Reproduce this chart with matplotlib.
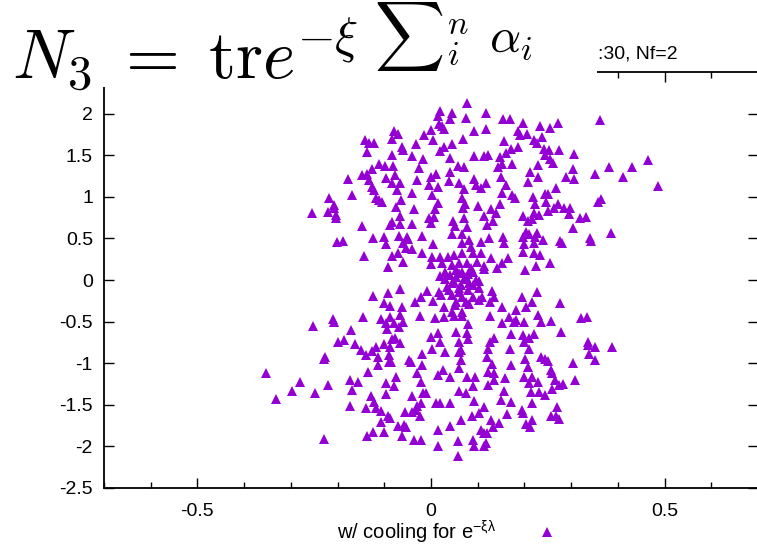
import matplotlib
matplotlib.use("Agg")
import matplotlib.pyplot as plt
from matplotlib.patches import Rectangle
from matplotlib.ticker import MultipleLocator

plt.rcParams["font.family"] = ["Liberation Sans", "DejaVu Sans"]
plt.rcParams["mathtext.fontset"] = "custom"
plt.rcParams["mathtext.rm"] = "Liberation Sans"
plt.rcParams["mathtext.it"] = "Liberation Sans"

# points (dense core first, then the outer cloud)
core = [
    (-0.020, 0.53), (0.004, 0.43), (0.046, 0.55), (0.066, 0.55), (0.067, 0.44), (0.081, 0.48),
    (0.086, 0.40), (0.106, 0.46), (0.124, 0.50), (0.154, 0.52), (0.156, 0.44), (-0.041, 0.37),
    (-0.020, 0.33), (0.003, 0.28), (0.019, 0.28), (0.037, 0.28), (0.050, 0.30), (0.067, 0.32),
    (0.089, 0.32), (0.107, 0.33), (0.128, 0.26), (0.164, 0.27), (0.153, 0.21), (0.000, 0.19),
    (0.024, 0.20), (0.046, 0.18), (0.060, 0.20), (0.078, 0.20), (0.098, 0.22), (0.113, 0.17),
    (0.141, 0.14), (0.031, 0.10), (0.053, 0.12), (0.067, 0.10), (0.089, 0.10), (0.114, 0.13),
    (0.030, 0.01), (0.053, 0.04), (0.074, 0.04), (0.096, 0.00), (0.103, -0.01), (0.046, -0.04),
    (0.064, -0.06), (0.081, -0.04), (-0.009, -0.13), (0.017, -0.14), (0.039, -0.12), (0.060, -0.14),
    (0.079, -0.12), (0.103, -0.10), (0.131, -0.13), (-0.021, -0.20), (0.021, -0.18), (0.046, -0.18),
    (0.067, -0.20), (0.089, -0.20), (0.110, -0.20), (0.134, -0.20), (-0.034, -0.26), (0.004, -0.25),
    (0.053, -0.26), (0.074, -0.26), (0.103, -0.24), (0.127, -0.26), (0.027, -0.32), (0.051, -0.30),
    (0.081, -0.29), (0.153, -0.33), (0.181, -0.36), (0.046, -0.38), (0.067, -0.39), (-0.023, -0.43),
    (0.009, -0.46), (0.027, -0.44), (0.050, -0.43), (0.067, -0.43), (0.126, -0.43), (0.167, -0.45),
    (0.040, 0.06), (0.060, 0.08), (0.080, 0.07), (0.050, -0.02), (0.070, 0.01), (0.090, -0.06),
    (0.035, -0.08), (0.060, -0.10), (0.085, 0.14), (0.020, 0.05),
]

upper_left = [
    (0.076, 2.13), (0.019, 2.03), (0.044, 2.01), (0.117, 2.01), (0.014, 1.97), (0.040, 1.93),
    (0.074, 1.95), (0.017, 1.87), (0.023, 1.85), (0.027, 1.81), (0.154, 1.93), (0.001, 1.80),
    (-0.014, 1.74), (0.004, 1.68), (0.093, 1.79), (0.117, 1.81), (-0.080, 1.79), (-0.071, 1.75),
    (-0.084, 1.69), (-0.141, 1.68), (-0.133, 1.65), (-0.123, 1.65), (0.069, 1.69), (0.046, 1.64),
    (-0.033, 1.63), (0.028, 1.60), (0.019, 1.55), (0.157, 1.67), (-0.063, 1.60), (-0.061, 1.56),
    (-0.136, 1.54), (-0.083, 1.50), (-0.040, 1.49), (-0.017, 1.46), (0.040, 1.47), (0.093, 1.49),
    (0.113, 1.49), (0.123, 1.50), (0.147, 1.48), (0.161, 1.53), (-0.111, 1.40), (-0.099, 1.37),
    (-0.081, 1.37), (-0.026, 1.35), (0.057, 1.37), (0.071, 1.36), (0.144, 1.36), (0.153, 1.40),
    (-0.127, 1.33), (-0.148, 1.26), (-0.138, 1.28), (-0.177, 1.21), (-0.133, 1.20), (-0.096, 1.23),
    (-0.076, 1.26), (-0.029, 1.20), (-0.001, 1.24), (0.011, 1.28), (0.041, 1.30), (0.039, 1.19),
    (0.059, 1.16), (0.093, 1.21), (0.096, 1.14), (0.117, 1.16), (0.150, 1.24), (-0.083, 1.16),
    (-0.066, 1.17), (-0.004, 1.14), (0.014, 1.12), (0.070, 1.09), (0.107, 1.10), (0.153, 1.04),
    (0.161, 1.14), (-0.218, 0.98), (-0.170, 1.02), (-0.127, 1.12), (-0.123, 1.08), (-0.073, 1.08),
    (-0.040, 1.04), (0.003, 1.02), (-0.118, 0.98), (-0.111, 0.96), (-0.104, 0.94), (-0.064, 0.96),
    (0.014, 0.93), (0.067, 0.98), (0.073, 0.91), (0.100, 0.89), (0.128, 0.85), (0.148, 0.91),
    (-0.207, 0.90), (-0.207, 0.87), (-0.074, 0.88), (-0.037, 0.85), (0.009, 0.85), (0.069, 0.86),
    (-0.254, 0.81), (-0.220, 0.82), (-0.203, 0.78), (-0.203, 0.74), (-0.067, 0.77), (-0.004, 0.74),
    (0.007, 0.76), (0.047, 0.71), (0.071, 0.75), (0.113, 0.77), (0.133, 0.71), (0.140, 0.80),
    (-0.084, 0.70), (-0.087, 0.66), (-0.067, 0.67), (-0.040, 0.67), (0.001, 0.69), (0.051, 0.65),
    (0.077, 0.64), (0.120, 0.66), (-0.147, 0.65), (-0.124, 0.51), (-0.101, 0.52), (-0.069, 0.53),
    (-0.051, 0.52), (-0.049, 0.49), (-0.201, 0.46), (-0.188, 0.47), (-0.097, 0.43), (-0.060, 0.44),
    (-0.053, 0.39), (-0.144, 0.29), (-0.083, 0.29), (-0.071, 0.32), (-0.093, 0.16), (-0.061, 0.22),
]

upper_right = [
    (0.170, 1.93), (0.196, 1.89), (0.233, 1.85), (0.255, 1.83), (0.271, 1.89), (0.361, 1.92),
    (0.186, 1.79), (0.190, 1.74), (0.206, 1.76), (0.221, 1.68), (0.226, 1.65), (0.238, 1.72),
    (0.171, 1.58), (0.187, 1.60), (0.241, 1.58), (0.253, 1.56), (0.273, 1.56), (0.307, 1.52),
    (0.245, 1.50), (0.255, 1.46), (0.261, 1.41), (0.173, 1.40), (0.230, 1.38), (0.303, 1.34),
    (0.381, 1.36), (0.431, 1.36), (0.464, 1.44), (0.211, 1.30), (0.228, 1.24), (0.207, 1.18),
    (0.290, 1.24), (0.307, 1.21), (0.351, 1.28), (0.411, 1.24), (0.486, 1.13), (0.268, 1.10),
    (0.174, 1.02), (0.179, 0.98), (0.219, 1.00), (0.244, 1.03), (0.251, 1.03), (0.223, 0.91),
    (0.246, 0.94), (0.271, 0.91), (0.358, 0.94), (0.364, 0.97), (0.198, 0.77), (0.220, 0.81),
    (0.231, 0.78), (0.207, 0.71), (0.217, 0.73), (0.251, 0.83), (0.264, 0.86), (0.284, 0.86),
    (0.297, 0.87), (0.296, 0.79), (0.318, 0.74), (0.331, 0.76), (0.304, 0.62), (0.385, 0.56),
    (0.341, 0.51), (0.342, 0.47), (0.203, 0.58), (0.210, 0.55), (0.226, 0.57), (0.196, 0.52),
    (0.223, 0.52), (0.240, 0.48), (0.277, 0.47), (0.280, 0.44), (0.199, 0.43), (0.220, 0.45),
    (0.196, 0.34), (0.220, 0.32), (0.233, 0.30), (0.255, 0.21), (0.224, 0.17), (0.201, 0.12),
]

lower_left = [
    (-0.124, -0.19), (-0.091, -0.16), (-0.067, -0.11), (-0.101, -0.28), (-0.087, -0.31), (-0.063, -0.33),
    (-0.146, -0.44), (-0.210, -0.47), (-0.207, -0.51), (-0.253, -0.55), (-0.107, -0.47), (-0.087, -0.44),
    (-0.066, -0.42), (-0.096, -0.52), (-0.079, -0.52), (-0.061, -0.51), (-0.095, -0.59), (-0.069, -0.57),
    (-0.171, -0.60), (-0.200, -0.74), (-0.186, -0.72), (-0.163, -0.77), (-0.150, -0.84), (-0.140, -0.90),
    (-0.127, -0.85), (-0.118, -0.81), (-0.101, -0.77), (-0.088, -0.80), (-0.083, -0.71), (-0.076, -0.70),
    (-0.066, -0.76), (-0.113, -0.93), (-0.114, -1.02), (-0.090, -0.90), (-0.090, -0.98), (-0.086, -0.99),
    (-0.230, -0.95), (-0.227, -0.93), (-0.353, -1.12), (-0.331, -1.43), (-0.298, -1.34), (-0.280, -1.22),
    (-0.248, -1.36), (-0.220, -1.26), (-0.228, -1.91), (-0.173, -1.20), (-0.157, -1.22), (-0.134, -1.10),
    (-0.169, -1.32), (-0.173, -1.52), (-0.140, -1.54), (-0.128, -1.40), (-0.123, -1.47), (-0.118, -1.54),
    (-0.108, -1.57), (-0.124, -1.83), (-0.138, -1.87), (-0.101, -1.83), (-0.106, -1.71), (-0.096, -1.24),
    (-0.080, -1.28), (-0.074, -1.16), (-0.096, -1.37), (-0.091, -1.64), (-0.087, -1.66), (-0.071, -1.76),
    (-0.063, -1.87), (-0.057, -1.74), (-0.054, -1.77), (-0.056, -1.59), (-0.040, -1.59), (-0.040, -1.39),
    (-0.047, -0.96), (-0.043, -0.99), (-0.033, -1.56), (-0.029, -1.52), (-0.021, -1.48), (-0.024, -1.64),
    (-0.037, -1.92), (-0.021, -1.92), (-0.029, -1.12), (-0.020, -1.02), (-0.021, -1.22), (-0.011, -1.36),
    (-0.017, -1.36), (-0.019, -0.89), (-0.001, -0.69), (0.003, -0.83), (0.020, -0.75), (0.014, -0.64),
    (0.031, -0.87), (0.016, -1.14), (0.026, -1.08), (0.040, -1.16), (0.010, -1.48), (0.020, -1.48),
    (0.040, -1.48), (0.016, -1.80), (0.040, -1.76), (0.016, -2.00), (0.057, -1.93), (0.057, -2.11),
    (0.064, -1.68), (0.061, -1.34), (0.074, -1.36), (0.060, -1.06), (0.064, -0.96), (0.064, -0.84),
    (0.061, -0.87), (0.061, -0.74), (0.054, -0.63), (0.077, -0.64), (0.080, -0.53), (0.079, -0.71),
    (0.076, -1.16), (0.095, -1.17), (0.090, -1.28), (0.093, -1.45), (0.087, -1.64), (0.103, -1.60),
    (0.114, -1.53), (0.090, -1.92), (0.093, -2.00), (0.113, -1.84), (0.120, -1.84), (0.113, -2.00),
    (0.118, -1.96), (0.107, -1.80), (0.132, -1.77), (0.146, -1.72), (0.129, -1.68), (0.163, -1.61),
    (0.149, -1.44), (0.156, -1.34), (0.159, -1.18), (0.134, -1.20), (0.134, -1.12), (0.122, -1.26),
    (0.121, -1.10), (0.131, -1.01), (0.119, -0.92), (0.123, -0.83), (0.126, -0.75), (0.135, -0.70),
    (0.153, -0.52),
]

lower_right = [
    (0.194, -0.20), (0.226, -0.14), (0.203, -0.32), (0.217, -0.27), (0.277, -0.28), (0.181, -0.48),
    (0.177, -0.51), (0.200, -0.51), (0.230, -0.42), (0.236, -0.51), (0.256, -0.49), (0.321, -0.46),
    (0.333, -0.44), (0.278, -0.63), (0.171, -0.65), (0.197, -0.66), (0.209, -0.70), (0.221, -0.65),
    (0.200, -0.75), (0.209, -0.83), (0.169, -0.83), (0.202, -0.95), (0.236, -0.93), (0.243, -0.95),
    (0.251, -0.97), (0.336, -0.74), (0.336, -0.78), (0.351, -0.81), (0.387, -0.80), (0.338, -0.89),
    (0.350, -0.96), (0.303, -1.00), (0.207, -1.05), (0.171, -1.02), (0.256, -1.08), (0.258, -1.12),
    (0.199, -1.16), (0.216, -1.16), (0.266, -1.20), (0.229, -1.22), (0.209, -1.24), (0.274, -1.26),
    (0.283, -1.25), (0.309, -1.20), (0.260, -1.31), (0.213, -1.35), (0.231, -1.35), (0.243, -1.38),
    (0.171, -1.47), (0.216, -1.48), (0.194, -1.56), (0.196, -1.60), (0.269, -1.53), (0.256, -1.63),
    (0.267, -1.64), (0.274, -1.67), (0.217, -1.68), (0.204, -1.73), (0.211, -1.77),
]

x_major = [-0.5, 0, 0.5]
y_major = [2, 1.5, 1, 0.5, 0, -0.5, -1, -1.5, -2, -2.5]

points = core + upper_left + upper_right + lower_left + lower_right
xs = [p[0] for p in points]
ys = [p[1] for p in points]

W, H = 757, 546
fig = plt.figure(figsize=(W / 100, H / 100), dpi=100)
ax = fig.add_axes([104 / W, 1 - 488 / H, (758 - 104) / W, (488 - 72) / H])

ax.plot(xs, ys, linestyle="none", marker="^", markersize=6.8, color="#9400d3",
        markeredgewidth=0, label=r"w/ cooling for e$^{-\xi\lambda}$")

ax.set_xlim(-0.7, 0.7)
ax.set_ylim(-2.5, 2.5)
ax.set_xticks(x_major)
ax.set_xticklabels(["-0.5", "0", "0.5"])
ax.xaxis.set_minor_locator(MultipleLocator(0.1))
ax.set_yticks(y_major)
ax.set_yticklabels([f"{v:g}" for v in y_major])
ax.tick_params(which="both", direction="in", top=True, right=True, labelsize=14, width=1)
ax.tick_params(which="major", length=7)
ax.tick_params(which="minor", length=4)
ax.tick_params(axis="x", pad=11)
ax.tick_params(axis="y", pad=8)
for s in ax.spines.values():
    s.set_linewidth(1.3)

ax.legend(loc="center", bbox_to_anchor=(447 / W, 1 - 532 / H), bbox_transform=fig.transFigure,
          frameon=False, markerfirst=False, fontsize=14.5, handlelength=1.0, handletextpad=2.0,
          borderpad=0, borderaxespad=0)

fig.text(598 / W, 1 - 54 / H, ":30, Nf=2", fontsize=14, ha="left", va="center")

# white block that hides the top-left corner, with the formula on it
fig.patches.append(Rectangle((0, 1 - 87 / H), 597 / W, 87 / H, transform=fig.transFigure,
                             facecolor="white", edgecolor="none", zorder=5))
base = fig.text(12 / W, 1 - 78 / H, r"$N_3\;=\;\mathrm{tr}e$",
                fontsize=50, math_fontfamily="cm", ha="left", va="baseline", zorder=6)
fig.canvas.draw()
bb = base.get_window_extent()
fig.text((bb.x1 + 2) / W, 1 - 53 / H, r"$-\xi\;\,{\sum}_i^n\;\,\alpha_i$",
         fontsize=35, math_fontfamily="cm", ha="left", va="baseline", zorder=6)

fig.savefig("out.png", dpi=100)
